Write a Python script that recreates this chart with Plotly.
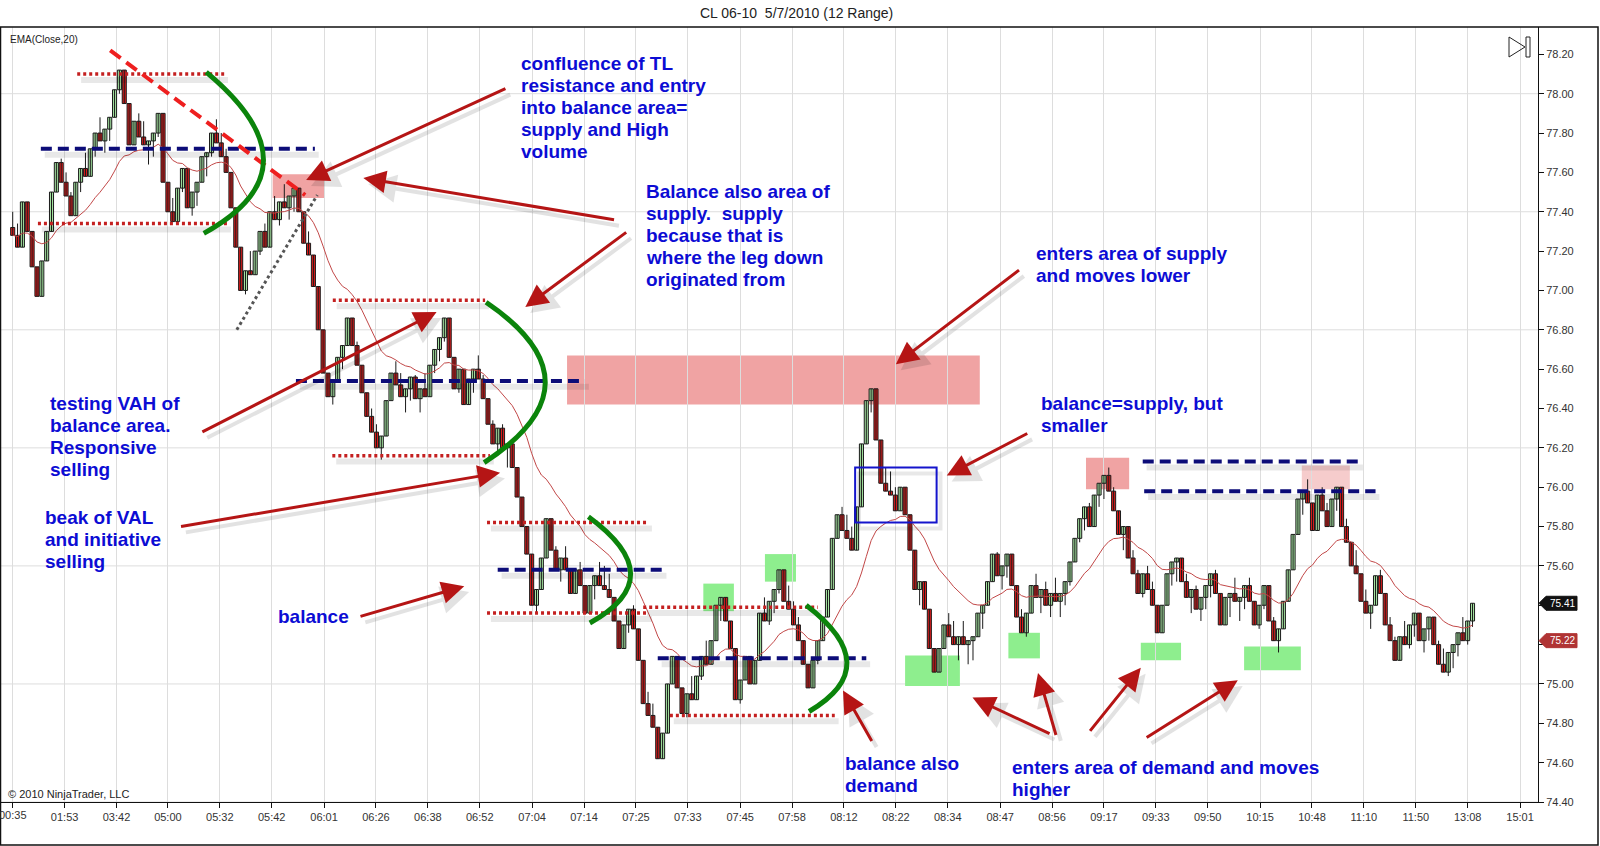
import plotly.graph_objects as go

# closes of the 12 range bars
closes = [
    77.28, 77.22, 77.45, 77.30, 77.12, 76.97, 77.15, 77.30, 77.50, 77.65,
    77.55, 77.48, 77.38, 77.55, 77.62, 77.58, 77.72, 77.80, 77.76, 77.82,
    77.88, 78.02, 78.12, 77.95, 77.74, 77.86, 77.78, 77.74, 77.76, 77.80,
    77.90, 77.55, 77.40, 77.35, 77.52, 77.62, 77.42, 77.50, 77.55, 77.68,
    77.70, 77.80, 77.75, 77.68, 77.60, 77.42, 77.22, 77.00, 77.10, 77.08,
    77.20, 77.30, 77.22, 77.40, 77.36, 77.45, 77.42, 77.48, 77.52, 77.40,
    77.24, 77.18, 77.02, 76.80, 76.58, 76.46, 76.54, 76.66, 76.72, 76.86,
    76.72, 76.62, 76.48, 76.36, 76.28, 76.20, 76.26, 76.44, 76.58, 76.52,
    76.46, 76.50, 76.56, 76.45, 76.50, 76.46, 76.62, 76.70, 76.76, 76.86,
    76.66, 76.50, 76.60, 76.42, 76.55, 76.60, 76.55, 76.45, 76.32, 76.22,
    76.30, 76.20, 76.22, 76.10, 75.95, 75.80, 75.66, 75.40, 75.48, 75.64,
    75.84, 75.68, 75.58, 75.64, 75.58, 75.46, 75.58, 75.50, 75.36, 75.50,
    75.55, 75.50, 75.48, 75.44, 75.32, 75.18, 75.30, 75.38, 75.28, 75.12,
    74.90, 74.84, 74.78, 74.62, 74.75, 75.00, 75.14, 74.98, 74.85, 74.95,
    74.92, 75.04, 75.14, 75.10, 75.22, 75.40, 75.44, 75.32, 75.18, 74.92,
    75.02, 75.14, 75.00, 75.12, 75.36, 75.32, 75.42, 75.48, 75.58, 75.42,
    75.38, 75.30, 75.22, 75.10, 74.98, 75.12, 75.22, 75.34, 75.48, 75.74,
    75.86, 75.78, 75.74, 75.68, 75.90, 76.22, 76.44, 76.50, 76.24, 76.02,
    75.98, 75.96, 75.88, 76.00, 75.86, 75.68, 75.48, 75.52, 75.38, 75.18,
    75.06, 75.18, 75.30, 75.24, 75.20, 75.24, 75.20, 75.22, 75.24, 75.36,
    75.40, 75.52, 75.66, 75.55, 75.60, 75.66, 75.50, 75.34, 75.26, 75.36,
    75.50, 75.44, 75.48, 75.40, 75.46, 75.42, 75.46, 75.52, 75.62, 75.74,
    75.84, 75.90, 75.80, 75.96, 76.02, 76.06, 75.98, 75.88, 75.76, 75.80,
    75.64, 75.56, 75.46, 75.56, 75.48, 75.40, 75.26, 75.40, 75.56, 75.62,
    75.64, 75.52, 75.44, 75.48, 75.38, 75.44, 75.50, 75.56, 75.46, 75.30,
    75.44, 75.46, 75.42, 75.44, 75.50, 75.42, 75.30, 75.40, 75.50, 75.32,
    75.22, 75.28, 75.42, 75.58, 75.76, 75.94, 75.98, 75.92, 75.78, 75.96,
    75.88, 75.80, 75.94, 76.00, 75.80, 75.72, 75.60, 75.56, 75.42, 75.36,
    75.40, 75.55, 75.46, 75.30, 75.22, 75.12, 75.24, 75.20, 75.30, 75.36,
    75.22, 75.28, 75.34, 75.20, 75.10, 75.06, 75.16, 75.20, 75.26, 75.22,
    75.32, 75.41,
]
first_open = 77.32
bar_range = 0.12          # 12 range bars
ema_period = 20

time_labels = ["00:35", "01:53", "03:42", "05:00", "05:32", "05:42", "06:01", "06:26",
               "06:38", "06:52", "07:04", "07:14", "07:25", "07:33", "07:45", "07:58",
               "08:12", "08:22", "08:34", "08:47", "08:56", "09:17", "09:33", "09:50",
               "10:15", "10:48", "11:10", "11:50", "13:08", "15:01"]
time_ticks = [0, 10.7, 21.4, 32.0, 42.7, 53.4, 64.2, 74.9, 85.6, 96.3,
              107.1, 117.8, 128.5, 139.2, 150.0, 160.7, 171.4, 182.1, 192.8, 203.6,
              214.3, 225.0, 235.7, 246.4, 257.2, 267.9, 278.6, 289.3, 300.0, 310.8]
price_ticks = [74.40, 74.60, 74.80, 75.00, 75.20, 75.40, 75.60, 75.80, 76.00, 76.20,
               76.40, 76.60, 76.80, 77.00, 77.20, 77.40, 77.60, 77.80, 78.00, 78.20]
grid_prices = [78.00, 77.40, 76.80, 76.20, 75.60, 75.00, 74.40]
last_price = 75.41
ema_label = 75.22

# drawing objects (bar index, price)
dotted_levels = [(13.3, 43.6, 78.10), (5.2, 44.2, 77.34), (66.0, 97.4, 76.95),
                 (65.9, 98.4, 76.16), (97.8, 131.0, 75.82), (97.8, 131.0, 75.36),
                 (130.0, 166.0, 75.39), (135.5, 169.5, 74.84)]
dashed_levels = [(5.8, 62.3, 77.72), (58.4, 118.0, 76.54), (100.0, 134.0, 75.58),
                 (133.0, 176.0, 75.13), (233.0, 277.6, 76.13), (233.3, 281.0, 75.98)]
red_trend = (20.1, 78.22, 60.3, 77.485)
grey_trend = (46.2, 76.80, 62.8, 77.485)
green_curves = [(39.9, 78.11, 51.7, 77.66, 39.4, 77.29),
                (97.6, 76.94, 109.8, 76.53, 97.2, 76.125),
                (118.7, 75.85, 127.4, 75.56, 119.0, 75.31),
                (163.6, 75.40, 172.0, 75.11, 164.2, 74.86)]
pink_boxes = [(53.6, 64.2, 77.47, 77.59), (114.3, 199.4, 76.42, 76.67),
              (221.3, 230.2, 75.99, 76.15)]
light_pink_boxes = [(265.8, 275.7, 75.99, 76.11)]
green_boxes = [(142.4, 148.7, 75.37, 75.51), (155.1, 161.5, 75.52, 75.66),
               (184.0, 195.3, 74.99, 75.144), (205.3, 211.8, 75.13, 75.26),
               (232.6, 240.9, 75.12, 75.21), (253.9, 265.6, 75.07, 75.19)]
blue_box = (173.7, 190.5, 75.82, 76.10)
arrows = [  # tail bar, tail price, head bar, head price
    (101.9, 78.029, 60.5, 77.561), (124.3, 77.358, 72.3, 77.571),
    (126.8, 77.301, 105.7, 76.916), (38.8, 76.277, 87.4, 76.890),
    (34.4, 75.799, 100.5, 76.074), (71.4, 75.341, 93.1, 75.497),
    (207.8, 77.109, 182.1, 76.625), (209.5, 76.277, 192.6, 76.059),
    (177.3, 74.702, 171.2, 74.967), (214.1, 74.744, 197.9, 74.931),
    (215.2, 74.733, 211.4, 75.056), (221.9, 74.754, 232.6, 75.082),
    (233.5, 74.723, 252.6, 75.019),
]
notes = [
    (104.3, 78.153, ["confluence of TL", "resistance and entry", "into balance area=",
                     "supply and High", "volume"]),
    (130.1, 77.504, ["Balance also area of", "supply.\u00a0 supply", "because that is",
                     "where the leg down", "originated from"]),
    (210.5, 77.187, ["enters area of supply", "and moves lower"]),
    (7.3, 76.423, ["testing VAH of", "balance area.", "Responsive", "selling"]),
    (211.6, 76.423, ["balance=supply, but", "smaller"]),
    (6.2, 75.846, ["beak of VAL", "and initiative", "selling"]),
    (54.2, 75.341, ["balance"]),
    (171.2, 74.598, ["balance also", "demand"]),
    (205.7, 74.577, ["enters area of demand and moves", "higher"]),
]

# range bar candles: open at previous close, full bar range 0.12
bars = list(range(len(closes)))
opens = [first_open] + closes[:-1]
highs, lows = [], []
for o, c in zip(opens, closes):
    hi, lo = max(o, c), min(o, c)
    if hi - lo < bar_range:
        if c >= o:
            lo = hi - bar_range
        else:
            hi = lo + bar_range
    highs.append(round(hi, 2))
    lows.append(round(lo, 2))

k = 2 / (ema_period + 1)
ema = []
for c in closes:
    ema.append(c if not ema else ema[-1] + k * (c - ema[-1]))

# pixel frame of the plot area
W, H = 1600, 846
PL, PR, PT, PB = 0, 1538, 27, 802
y_lo, y_hi = 74.40, 78.339
x_lo, x_hi = -2.62, 314.5
px_per_price = (PB - PT) / (y_hi - y_lo)


def paper_x(px):
    return (px - PL) / (PR - PL)


def paper_y(py):
    return (PB - py) / (PB - PT)


FONT = "Arial, Liberation Sans, sans-serif"
UP, DOWN, EDGE = "#a4e3a0", "#d81c1c", "#1a1a1a"

# wicks as one broken line, bodies as floating bars
wick_x, wick_y = [], []
for i in bars:
    wick_x += [i, i, None]
    wick_y += [lows[i], highs[i], None]
body_base = [min(o, c) for o, c in zip(opens, closes)]
body_len = [max(abs(c - o), 0.006) for o, c in zip(opens, closes)]
body_col = [UP if c >= o else DOWN for o, c in zip(opens, closes)]

fig = go.Figure()
fig.add_trace(go.Scatter(x=wick_x, y=wick_y, mode="lines",
                         line=dict(color=EDGE, width=1), hoverinfo="skip"))
fig.add_trace(go.Bar(x=bars, y=body_len, base=body_base, width=0.84,
                     marker=dict(color=body_col, line=dict(color=EDGE, width=1)),
                     hoverinfo="skip"))
fig.add_trace(go.Scatter(x=bars, y=ema, mode="lines",
                         line=dict(color="#c24848", width=1), hoverinfo="skip"))

shapes = []
for p in grid_prices:
    shapes.append(dict(type="line", xref="paper", yref="y", x0=0, x1=1, y0=p, y1=p,
                       line=dict(color="#dddddd", width=1), layer="below"))
for x0, x1, y0, y1 in pink_boxes:
    shapes.append(dict(type="rect", x0=x0, x1=x1, y0=y0, y1=y1, fillcolor="#f0a3a3",
                       line=dict(width=0), layer="below"))
for x0, x1, y0, y1 in light_pink_boxes:
    shapes.append(dict(type="rect", x0=x0, x1=x1, y0=y0, y1=y1, fillcolor="#f6cccc",
                       line=dict(width=0), layer="below"))
for x0, x1, y0, y1 in green_boxes:
    shapes.append(dict(type="rect", x0=x0, x1=x1, y0=y0, y1=y1, fillcolor="#8eee8e",
                       line=dict(width=0), layer="below"))

# soft drop shadows under the drawn levels
shadow = "rgba(0,0,0,0.09)"
for x0, x1, p in dotted_levels + dashed_levels:
    shapes.append(dict(type="line", x0=x0 + 0.8, x1=x1 + 0.8, y0=p - 0.03, y1=p - 0.03,
                       line=dict(color=shadow, width=6)))
bx0, bx1, by0, by1 = blue_box
shapes.append(dict(type="rect", x0=bx0 + 0.8, x1=bx1 + 0.8, y0=by0 - 0.03, y1=by1 - 0.03,
                   line=dict(color=shadow, width=4)))

for x0, x1, p in dotted_levels:
    shapes.append(dict(type="line", x0=x0, x1=x1, y0=p, y1=p,
                       line=dict(color="#c42020", width=3.5, dash="3px,3px")))
for x0, x1, p in dashed_levels:
    shapes.append(dict(type="line", x0=x0, x1=x1, y0=p, y1=p,
                       line=dict(color="#0c0c78", width=4, dash="11px,6px")))
shapes.append(dict(type="line", x0=red_trend[0], y0=red_trend[1], x1=red_trend[2],
                   y1=red_trend[3], line=dict(color="#ee1f1f", width=4, dash="13px,7px")))
shapes.append(dict(type="line", x0=grey_trend[0], y0=grey_trend[1], x1=grey_trend[2],
                   y1=grey_trend[3], line=dict(color="#555555", width=3, dash="3px,3px")))
for x0, y0, ax, ay, x1, y1 in green_curves:
    cx = 2 * ax - (x0 + x1) / 2
    cy = 2 * ay - (y0 + y1) / 2
    shapes.append(dict(type="path", path=f"M {x0},{y0} Q {cx},{cy} {x1},{y1}",
                       line=dict(color="#0b840b", width=5)))
shapes.append(dict(type="rect", x0=bx0, x1=bx1, y0=by0, y1=by1,
                   line=dict(color="#1414cc", width=2)))

# play icon top right
shapes.append(dict(type="path", xref="paper", yref="paper",
                   path=f"M {paper_x(1509)},{paper_y(37)} L {paper_x(1525)},{paper_y(47)} "
                        f"L {paper_x(1509)},{paper_y(57)} Z",
                   line=dict(color="#222", width=1)))
shapes.append(dict(type="rect", xref="paper", yref="paper", x0=paper_x(1526), x1=paper_x(1530),
                   y0=paper_y(57), y1=paper_y(37), line=dict(color="#222", width=1)))

# price markers on the axis
half = 7 / px_per_price
for val, col in [(last_price, "#111111"), (ema_label, "#b03434")]:
    xa, xb, xc = paper_x(1539), paper_x(1546), paper_x(1577)
    shapes.append(dict(type="path", xref="paper", yref="y",
                       path=f"M {xa},{val} L {xb},{val + half} L {xc},{val + half} "
                            f"L {xc},{val - half} L {xb},{val - half} Z",
                       fillcolor=col, line=dict(color=col, width=1)))

# outer frame
shapes.append(dict(type="rect", xref="paper", yref="paper", x0=paper_x(0.5), x1=paper_x(1598),
                   y0=paper_y(845), y1=paper_y(27), line=dict(color="#111", width=1.5)))

annotations = []
for tx, ty, hx, hy in arrows:
    annotations.append(dict(x=hx + 1.0, y=hy - 0.03, ax=tx + 1.0, ay=ty - 0.03,
                            xref="x", yref="y", axref="x", ayref="y", text="",
                            showarrow=True, arrowhead=2, arrowsize=1.4, arrowwidth=4,
                            arrowcolor="rgba(0,0,0,0.11)"))
for tx, ty, hx, hy in arrows:
    annotations.append(dict(x=hx, y=hy, ax=tx, ay=ty, xref="x", yref="y", axref="x",
                            ayref="y", text="", showarrow=True, arrowhead=2, arrowsize=1.5,
                            arrowwidth=3, arrowcolor="#b51515"))
for nx, ny, lines in notes:
    for i, line in enumerate(lines):
        annotations.append(dict(x=nx, y=ny, xref="x", yref="y", text=f"<b>{line}</b>",
                                showarrow=False, xanchor="left", yanchor="middle",
                                yshift=-22 * i,
                                font=dict(family=FONT, size=19, color="#0c0cd4")))
for val in [last_price, ema_label]:
    annotations.append(dict(x=paper_x(1562), y=val, xref="paper", yref="y",
                            text=f"{val:.2f}", showarrow=False, xanchor="center",
                            yanchor="middle",
                            font=dict(family=FONT, size=10, color="white")))
# first time label sits half outside the left edge
annotations.append(dict(x=time_ticks[0], y=paper_y(815), xref="x", yref="paper",
                        text=time_labels[0], showarrow=False, xanchor="center",
                        yanchor="middle", font=dict(family=FONT, size=11, color="#333")))
annotations.append(dict(x=paper_x(796), y=paper_y(13), xref="paper", yref="paper",
                        text="CL 06-10  5/7/2010 (12 Range)", showarrow=False,
                        yanchor="middle",
                        font=dict(family=FONT, size=14, color="#222")))
annotations.append(dict(x=paper_x(8), y=paper_y(39), xref="paper", yref="paper",
                        text="EMA(Close,20)", showarrow=False, xanchor="left",
                        yanchor="middle",
                        font=dict(family=FONT, size=10, color="#222")))
annotations.append(dict(x=paper_x(6), y=paper_y(794), xref="paper", yref="paper",
                        text="© 2010 NinjaTrader, LLC", showarrow=False, xanchor="left",
                        yanchor="middle",
                        font=dict(family=FONT, size=11, color="#222")))

# tick labels hidden behind the price markers
y_ticktext = ["" if abs(p - last_price) < 0.05 or abs(p - ema_label) < 0.05 else f"{p:.2f}"
              for p in price_ticks]

fig.update_layout(
    width=W, height=H,
    margin=dict(l=PL, r=W - PR, t=PT, b=H - PB),
    plot_bgcolor="white", paper_bgcolor="white",
    showlegend=False,
    shapes=shapes,
    annotations=annotations,
    xaxis=dict(range=[x_lo, x_hi], tickvals=time_ticks, ticktext=time_labels,
               showgrid=True, gridcolor="#dddddd", zeroline=False,
               showline=True, linecolor="#111", linewidth=1,
               ticks="outside", ticklen=5, tickcolor="#111",
               tickfont=dict(family=FONT, size=11, color="#333")),
    yaxis=dict(range=[y_lo, y_hi], side="right", tickvals=price_ticks,
               ticktext=y_ticktext,
               showgrid=False, zeroline=False,
               showline=True, linecolor="#111", linewidth=1,
               ticks="outside", ticklen=5, tickcolor="#111",
               tickfont=dict(family=FONT, size=11, color="#333")),
)

fig.write_html("out.html", config={"displayModeBar": False},
               post_script="document.body.style.margin='0';")
